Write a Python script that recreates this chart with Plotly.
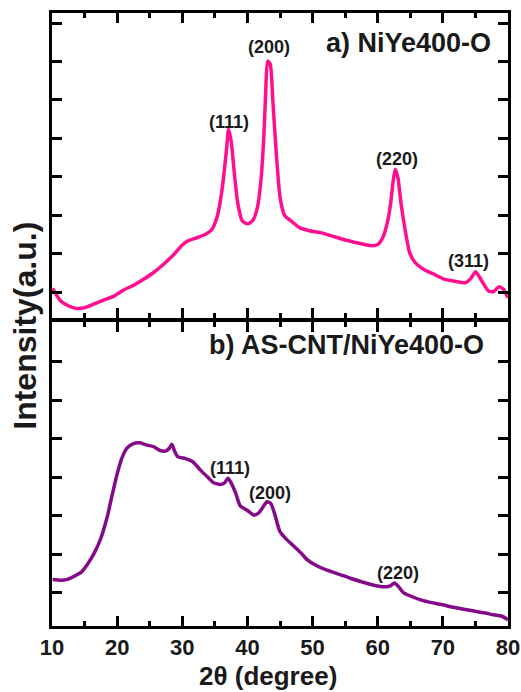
import plotly.graph_objects as go

# ---- data ----
x_a = [10.1, 11.3, 12.5, 13.8, 15.0, 16.5, 18.0, 19.5, 21.0, 22.5, 24.0, 25.5, 27.0, 28.7, 30.0, 30.8,
       32.3, 33.5, 34.5, 35.3, 35.8, 36.3, 36.8, 37.1, 37.5, 38.0, 38.5, 39.2, 40.0, 40.8, 41.5, 42.0,
       42.5, 42.8, 43.1, 43.5, 43.9, 44.4, 45.0, 45.7, 46.5, 48.0, 49.5, 51.2, 53.0, 55.0, 57.0, 59.0,
       60.0, 60.8, 61.5, 62.0, 62.4, 62.7, 63.1, 63.6, 64.2, 64.9, 65.7, 67.0, 68.5, 70.2, 72.0, 73.5,
       74.3, 75.0, 75.5, 76.2, 77.0, 77.8, 78.6, 79.3, 80.0]
y_a = [0.72, 0.40, 0.27, 0.20, 0.22, 0.32, 0.42, 0.52, 0.68, 0.80, 0.95, 1.12, 1.33, 1.60, 1.85, 1.95,
       2.04, 2.12, 2.24, 2.55, 2.95, 3.55, 4.35, 4.86, 4.55, 3.70, 2.95, 2.48, 2.40, 2.48, 2.80, 3.40,
       4.60, 5.80, 6.63, 6.55, 5.60, 4.30, 3.10, 2.62, 2.50, 2.30, 2.22, 2.17, 2.08, 1.98, 1.90, 1.83,
       1.86, 2.05, 2.45, 2.95, 3.55, 3.82, 3.60, 2.90, 2.25, 1.65, 1.40, 1.22, 1.10, 0.96, 0.90, 0.87,
       0.98, 1.15, 1.05, 0.85, 0.65, 0.64, 0.76, 0.70, 0.48]

x_b = [10.1, 11.5, 12.5, 13.5, 14.5, 15.5, 16.5, 17.5, 18.5, 19.3, 20.0, 20.7, 21.5, 22.5, 23.5, 24.6,
       25.6, 26.6, 27.5, 28.0, 28.4, 28.8, 29.3, 30.5, 31.5, 32.8, 34.0, 34.8, 35.9, 36.5, 37.0, 37.5,
       38.2, 38.9, 40.0, 41.0, 41.8, 42.5, 43.0, 43.6, 44.2, 45.0, 46.0, 47.1, 48.2, 49.2, 50.5, 52.2,
       54.0, 55.8, 57.5, 59.4, 61.3, 62.0, 62.6, 63.2, 64.0, 65.3, 66.6, 68.5, 70.0, 71.2, 73.0, 74.8,
       76.5, 77.8, 79.0, 80.0]
y_b = [1.21, 1.19, 1.22, 1.30, 1.40, 1.62, 1.90, 2.28, 2.85, 3.45, 3.95, 4.35, 4.62, 4.74, 4.76, 4.70,
       4.66, 4.56, 4.55, 4.62, 4.72, 4.55, 4.40, 4.35, 4.28, 4.05, 3.85, 3.72, 3.68, 3.72, 3.84, 3.72,
       3.45, 3.12, 3.00, 2.88, 2.95, 3.12, 3.23, 3.18, 2.90, 2.45, 2.25, 2.08, 1.90, 1.72, 1.58, 1.45,
       1.35, 1.24, 1.15, 1.06, 1.02, 1.05, 1.12, 1.02, 0.86, 0.76, 0.68, 0.60, 0.55, 0.50, 0.44, 0.39,
       0.34, 0.29, 0.26, 0.16]

peaks_a = ["(111)", "(200)", "(220)", "(311)"]
peaks_a_x = [37.1, 43.3, 62.9, 74.0]
peaks_a_y = [5.04, 6.99, 4.08, 1.43]

peaks_b = ["(111)", "(200)", "(220)"]
peaks_b_x = [37.4, 43.5, 63.1]
peaks_b_y = [4.10, 3.45, 1.38]

xticks = [10, 20, 30, 40, 50, 60, 70, 80]
yticks_a = [0.62 + k for k in range(8)]
yticks_b = [0.86 + k for k in range(7)]

FONT = "Liberation Sans"
TXT = "#1a1a1a"

fig = go.Figure()
fig.add_trace(go.Scatter(x=x_a, y=y_a, mode="lines",
                         line=dict(color="#ff0f8f", width=3.5, shape="spline", smoothing=0.6),
                         xaxis="x", yaxis="y", showlegend=False))
fig.add_trace(go.Scatter(x=x_b, y=y_b, mode="lines",
                         line=dict(color="#840a8a", width=3.5, shape="spline", smoothing=0.6),
                         xaxis="x2", yaxis="y2", showlegend=False))

axis_common = dict(showline=True, linecolor="black", linewidth=3, mirror="allticks",
                   ticks="inside", tickcolor="black", tickwidth=2.5, ticklen=10,
                   showgrid=False, zeroline=False, automargin=False)
minor = dict(dtick=5, tick0=5, ticks="inside", ticklen=5, tickwidth=2.5, tickcolor="black")

fig.update_layout(
    width=521, height=692,
    margin=dict(l=52, r=13, t=13, b=66),
    paper_bgcolor="white", plot_bgcolor="white",
    font=dict(family=FONT, color=TXT),
    xaxis=dict(axis_common, range=[10, 80], tickvals=xticks, showticklabels=False,
               anchor="y", minor=minor),
    yaxis=dict(axis_common, range=[-0.05, 7.88], tickvals=yticks_a, showticklabels=False,
               domain=[0.5024, 1.0], anchor="x"),
    xaxis2=dict(axis_common, range=[10, 80], tickvals=xticks, anchor="y2",
                tickfont=dict(size=22, family=FONT, color=TXT, weight="bold"),
                ticklabelstandoff=0, ticklabeloverflow="allow", minor=minor),
    yaxis2=dict(axis_common, range=[0, 7.9], tickvals=yticks_b, showticklabels=False,
                domain=[0.0, 0.496], anchor="x2"),
)

ann = []
for t, x, y in zip(peaks_a, peaks_a_x, peaks_a_y):
    ann.append(dict(text=t, x=x, y=y, xref="x", yref="y", showarrow=False,
                    font=dict(size=18, family=FONT, color=TXT, weight="bold")))
for t, x, y in zip(peaks_b, peaks_b_x, peaks_b_y):
    ann.append(dict(text=t, x=x, y=y, xref="x2", yref="y2", showarrow=False,
                    font=dict(size=18, family=FONT, color=TXT, weight="bold")))
ann.append(dict(text="a) NiYe400-O", x=77.7, y=7.09, xref="x", yref="y", xanchor="right",
                showarrow=False, font=dict(size=27, family=FONT, color=TXT, weight="bold")))
ann.append(dict(text="b) AS-CNT/NiYe400-O", x=76.6, y=7.3, xref="x2", yref="y2", xanchor="right",
                showarrow=False, font=dict(size=27, family=FONT, color=TXT, weight="bold")))
ann.append(dict(text="Intensity(a.u.)", x=-0.059, y=0.49, xref="paper", yref="paper",
                textangle=-90, showarrow=False, xanchor="center", yanchor="middle",
                font=dict(size=32, family=FONT, color=TXT, weight="bold")))
ann.append(dict(text="2θ (degree)", x=0.474, y=-0.0816, xref="paper", yref="paper",
                showarrow=False, xanchor="center", yanchor="middle",
                font=dict(size=26, family=FONT, color=TXT, weight="bold")))
fig.update_layout(annotations=ann)

fig.write_html("out.html")
